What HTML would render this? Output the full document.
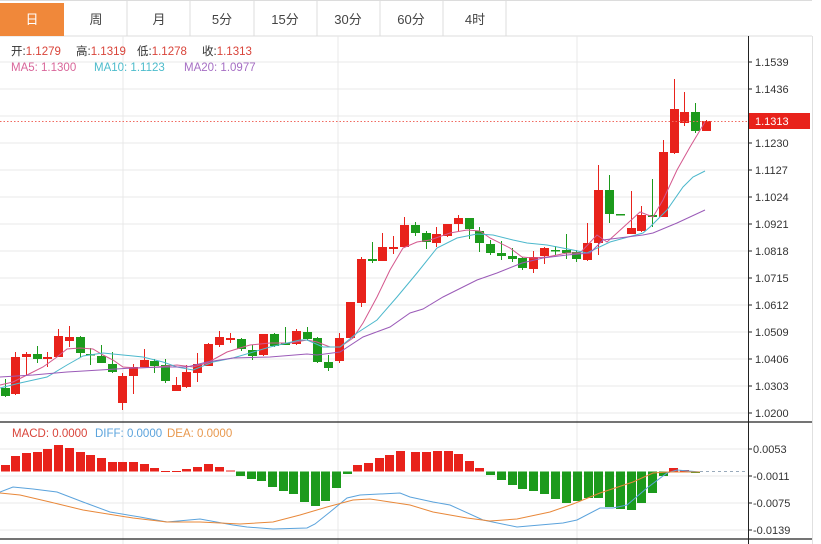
<!DOCTYPE html>
<html><head><meta charset="utf-8">
<style>
body{margin:0;background:#fff;width:821px;height:544px;overflow:hidden;font-family:"Liberation Sans","Noto Sans CJK SC",sans-serif;}
svg{position:absolute;left:0;top:0}
</style></head><body>
<svg id="s" width="821" height="544" xmlns="http://www.w3.org/2000/svg" font-family="Liberation Sans, Noto Sans CJK SC, sans-serif">
<rect width="821" height="544" fill="#fff"/>
<g stroke="#dcdcdc" fill="none">
<line x1="0" y1="36" x2="812" y2="36"/>
<line x1="0" y1="0.5" x2="812" y2="0.5"/>
<line x1="127" y1="0" x2="127" y2="36"/><line x1="190" y1="0" x2="190" y2="36"/>
<line x1="254" y1="0" x2="254" y2="36"/><line x1="317" y1="0" x2="317" y2="36"/>
<line x1="380" y1="0" x2="380" y2="36"/><line x1="443" y1="0" x2="443" y2="36"/>
<line x1="506" y1="0" x2="506" y2="36"/>
</g>
<rect x="0" y="3" width="64" height="33" fill="#f0883a"/>
<g font-size="13" fill="#444" text-anchor="middle">
<text x="32" y="24" fill="#fff">日</text><text x="96" y="24">周</text><text x="159" y="24">月</text>
<text x="222" y="24">5分</text><text x="285" y="24">15分</text><text x="348" y="24">30分</text>
<text x="411" y="24">60分</text><text x="475" y="24">4时</text>
</g>
<g id="grid" stroke="#e9e9e9"></g>
<g id="plot"></g>
<g font-size="11.5">
<text x="11" y="55"><tspan fill="#333">开:</tspan><tspan fill="#d9443a">1.1279</tspan></text>
<text x="76" y="55"><tspan fill="#333">高:</tspan><tspan fill="#d9443a">1.1319</tspan></text>
<text x="137" y="55"><tspan fill="#333">低:</tspan><tspan fill="#d9443a">1.1278</tspan></text>
<text x="202" y="55"><tspan fill="#333">收:</tspan><tspan fill="#d9443a">1.1313</tspan></text>
<text x="11" y="71" fill="#d9669a">MA5: 1.1300</text>
<text x="94" y="71" fill="#4dbccc">MA10: 1.1123</text>
<text x="184" y="71" fill="#a66fc4">MA20: 1.0977</text>
<text x="12" y="437" fill="#d9443a">MACD: 0.0000</text>
<text x="95" y="437" fill="#5ba3dc">DIFF: 0.0000</text>
<text x="167" y="437" fill="#e8984d">DEA: 0.0000</text>
</g>
</svg>
<script>
var NS="http://www.w3.org/2000/svg";
function el(p,t,a,txt){var e=document.createElementNS(NS,t);for(var k in a)e.setAttribute(k,a[k]);if(txt!=null)e.textContent=txt;p.appendChild(e);return e;}
var g=document.getElementById('grid'),p=document.getElementById('plot'),s=document.getElementById('s');
var labs=["1.1539","1.1436","1.1333","1.1230","1.1127","1.1024","1.0921","1.0818","1.0715","1.0612","1.0509","1.0406","1.0303","1.0200"];
for(var i=0;i<14;i++){var y=62+27*i;el(g,'line',{x1:0,y1:y,x2:748,y2:y});}
[449,476,503,530].forEach(function(y){el(g,'line',{x1:0,y1:y,x2:748,y2:y});});
[123,338,577].forEach(function(x){el(g,'line',{x1:x,y1:36,x2:x,y2:544});});
var C=[[5,0,388,396,379,397],[15,1,357,394,352,395],[26,1,354,357,352,375],[37,0,354,359,346,363],[47,1,357,359,352,367],[58,1,336,357,329,357],[69,1,337,341,326,347],[80,0,337,353,336,357],[90,0,354,355,348,365],[101,0,356,363,345,363],[112,0,364,372,352,373],[122,1,376,403,373,410],[133,1,367,376,364,394],[144,1,360,367,349,367],[154,0,361,366,359,373],[165,0,365,381,359,383],[176,1,385,391,377,391],[186,1,372,387,365,388],[197,1,364,373,353,382],[208,1,344,366,343,366],[219,1,337,345,331,347],[230,1,338,340,333,343],[241,0,339,349,338,351],[252,0,350,356,345,360],[263,1,334,355,334,356],[274,0,334,346,333,347],[285,0,343,345,327,345],[296,1,331,344,329,345],[307,0,332,339,327,340],[317,0,338,362,337,363],[328,0,362,368,355,371],[339,1,338,361,333,363],[350,1,302,338,302,339],[361,1,259,303,257,307],[372,0,259,261,242,263],[382,1,247,261,233,261],[393,1,247,249,236,254],[404,1,225,247,217,247],[415,0,225,233,222,236],[426,0,233,242,231,249],[436,1,234,243,227,247],[447,1,224,236,224,237],[458,1,218,224,215,231],[469,0,218,229,218,239],[479,0,231,243,227,252],[490,0,244,253,240,255],[501,0,253,256,241,260],[512,0,256,259,248,262],[522,0,258,268,257,270],[533,1,257,269,251,273],[544,1,248,256,247,264],[555,0,250,251,246,255],[566,0,250,253,234,259],[576,0,252,259,250,262],[587,1,243,260,223,261],[598,1,190,243,165,255],[609,0,190,214,175,223],[620,0,214,215,214,215],[631,1,228,234,191,234],[641,1,215,231,206,232],[652,0,215,217,179,227],[663,1,152,217,140,217],[674,1,109,153,79,154],[684,1,112,123,92,126],[695,0,112,131,103,133],[706,1,121,131,120,131]];
C.forEach(function(c){var col=c[1]?'#e8221b':'#1c9a1c';
el(p,'line',{x1:c[0]+.5,y1:c[4],x2:c[0]+.5,y2:c[5],stroke:col,'stroke-width':1});
el(p,'rect',{x:c[0]-4,y:c[2],width:9,height:Math.max(1.5,c[3]-c[2]),fill:col});});
function pl(pts,col){el(p,'polyline',{points:pts,fill:'none',stroke:col,'stroke-width':1});}
pl("0,385 13,382 27,375 43,367 57,357 67,349 80,348 93,349 103,355 113,360 123,367 137,368 157,367 177,365 193,367 207,363 227,352 240,348 250,345 270,343 290,343 307,340 317,342 330,347 340,347 353,338 363,323 377,297 390,270 403,248 417,242 430,240 450,233 467,230 480,231 490,238 510,248 522,257 533,258 547,257 567,253 580,253 597,235 607,242 617,233 640,212 653,217 663,200 677,170 690,147 705,122","#d4588e");
pl("0,388 20,383 47,377 67,365 83,356 103,353 123,355 143,357 163,362 177,367 193,370 213,362 233,358 270,347 300,340 307,340 323,347 340,347 357,333 377,320 397,297 417,273 437,248 457,238 477,234 493,235 513,240 527,243 547,245 573,250 587,253 610,242 643,233 650,227 667,210 683,187 693,177 705,171","#4cb8cc");
pl("0,377 33,375 67,372 100,370 133,368 167,367 187,367 207,362 233,358 270,357 307,354 317,355 340,352 363,337 390,327 410,313 423,309 443,297 457,290 467,285 477,280 497,273 522,263 543,258 567,255 590,253 603,240 643,235 653,233 677,223 705,210","#9b5bb8");
el(p,'line',{x1:0,y1:121.5,x2:748,y2:121.5,stroke:'#f06a60','stroke-dasharray':'1.5,2'});
var H=[[5,465],[15,456],[26,453],[37,452],[47,449],[58,445],[69,448],[80,452],[90,455],[101,458],[112,462],[122,462],[133,462],[144,464],[154,468],[165,471],[176,471],[186,469],[197,467],[208,464],[219,467],[230,470.5],[240,476],[251,479],[261,481],[272,487],[283,491],[293,494],[304,502],[315,506],[325,501],[336,488],[347,474],[357,465],[368,463],[379,458],[389,455],[400,451],[415,452],[426,452],[437,451],[448,451],[458,454],[469,461],[479,468],[490,475],[501,480],[512,485],[522,489],[533,491],[544,494],[555,499],[566,503],[577,501],[588,498],[598,498],[609,507],[620,509],[631,510],[641,503],[652,493],[663,476],[673,468],[684,470],[695,473]];
var Z=471.5;
H.forEach(function(h){var up=h[1]<Z;el(p,'rect',{x:h[0]-4,y:up?h[1]:Z,width:9,height:Math.max(1,Math.abs(h[1]-Z)),fill:up?'#e8221b':'#1c9a1c'});});
el(p,'line',{x1:700,y1:471.5,x2:748,y2:471.5,stroke:'#9ab','stroke-dasharray':'3,3'});
pl("0,492 13,487 33,489 57,492 83,502 110,512 140,517 167,522 200,519 233,525 247,527 273,529 307,528 315,524 330,512 347,498 360,495 400,493 410,497 433,502 450,505 483,520 517,527 540,525 563,523 577,520 600,508 613,508 627,505 647,488 667,473 677,470 700,472","#5ba3dc");
pl("0,493 20,495 50,502 83,510 133,518 167,522 200,522 240,524 273,522 300,515 327,507 353,500 370,499 390,502 410,505 433,512 467,518 490,521 517,519 550,512 573,504 600,493 633,482 653,473 667,472 700,472","#e8883a");
el(s,'line',{x1:0,y1:422,x2:812,y2:422,stroke:'#222','stroke-width':1.2});
el(s,'line',{x1:0,y1:539,x2:812,y2:539,stroke:'#222','stroke-width':1.2});
el(s,'line',{x1:748.5,y1:36,x2:748.5,y2:544,stroke:'#222'});
el(s,'line',{x1:812.5,y1:36,x2:812.5,y2:544,stroke:'#e0e0e0'});
for(var i=0;i<14;i++){var y=62+27*i;el(s,'line',{x1:748,y1:y,x2:752,y2:y,stroke:'#222'});if(i!=2)el(s,'text',{x:755,y:y+4,'font-size':11,fill:'#333'},labs[i]);}
[[449,"0.0053"],[476,"-0.0011"],[503,"-0.0075"],[530,"-0.0139"]].forEach(function(t){el(s,'line',{x1:748,y1:t[0],x2:752,y2:t[0],stroke:'#222'});el(s,'text',{x:753,y:t[0]+4,'font-size':11,fill:'#333'},t[1]);});
el(s,'rect',{x:749,y:113,width:61,height:16,fill:'#e8221b'});
el(s,'text',{x:755,y:125,'font-size':11,fill:'#fff'},"1.1313");
</script>
</body></html>
